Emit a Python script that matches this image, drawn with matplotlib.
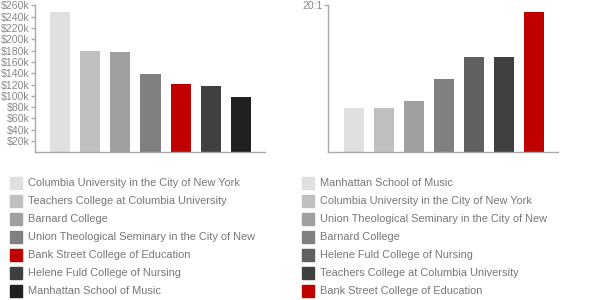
import matplotlib
matplotlib.use("Agg")
import matplotlib.pyplot as plt
from matplotlib.patches import Rectangle

plt.rcParams['font.family'] = ['Liberation Sans', 'DejaVu Sans']

# Left chart: salaries
left_names = ["Columbia University in the City of New York",
              "Teachers College at Columbia University",
              "Barnard College",
              "Union Theological Seminary in the City of New",
              "Bank Street College of Education",
              "Helene Fuld College of Nursing",
              "Manhattan School of Music"]
left_values = [248, 179, 177.5, 139, 120.5, 117, 98]  # in $k
left_colors = ["#e0e0e0", "#c0c0c0", "#a0a0a0", "#808080", "#c00000", "#404040", "#202020"]
left_ticks = [20, 40, 60, 80, 100, 120, 140, 160, 180, 200, 220, 240, 260]

# Right chart: student-faculty ratio
right_names = ["Manhattan School of Music",
               "Columbia University in the City of New York",
               "Union Theological Seminary in the City of New",
               "Barnard College",
               "Helene Fuld College of Nursing",
               "Teachers College at Columbia University",
               "Bank Street College of Education"]
right_values = [6, 6, 7, 10, 13, 13, 19.1]
right_colors = ["#e0e0e0", "#c0c0c0", "#a0a0a0", "#808080", "#606060", "#404040", "#c00000"]
right_ticks = [20]
right_tick_labels = ["20:1"]

W, H = 600, 300
fig = plt.figure(figsize=(6, 3), dpi=100)

axis_col = "#aaaaaa"
text_col = "#888888"
leg_text_col = "#777777"

def make_ax(x0, x1, ytop, ybot):
    return fig.add_axes([x0 / W, (H - ybot) / H, (x1 - x0) / W, (ybot - ytop) / H])

def style(ax):
    for s in ["top", "right"]:
        ax.spines[s].set_visible(False)
    for s in ["left", "bottom"]:
        ax.spines[s].set_color(axis_col)
        ax.spines[s].set_linewidth(1)
    ax.set_xticks([])
    ax.tick_params(axis='y', colors=axis_col, length=3, width=1, pad=0.5,
                   labelsize=7.6, labelcolor=text_col)
    ax.set_xlim(-0.85, 6.8)

ax1 = make_ax(34.5, 265, 5.5, 152.3)
ax1.bar(range(len(left_values)), left_values, width=0.667, color=left_colors)
ax1.set_ylim(0, 260)
ax1.set_yticks(left_ticks)
ax1.set_yticklabels([f"${v}k" for v in left_ticks])
style(ax1)

ax2 = make_ax(328, 558, 5, 152.3)
ax2.bar(range(len(right_values)), right_values, width=0.667, color=right_colors)
ax2.set_ylim(0, 20)
ax2.set_yticks(right_ticks)
ax2.set_yticklabels(right_tick_labels)
style(ax2)

def legend(names, colors, sq_x, txt_x, y0=182.7, dy=18, sz=12):
    for i, (n, c) in enumerate(zip(names, colors)):
        yc = y0 + i * dy
        fig.patches.append(Rectangle((sq_x / W, (H - yc - sz / 2) / H), sz / W, sz / H,
                                     transform=fig.transFigure, color=c, figure=fig))
        fig.text(txt_x / W, (H - yc) / H, n, ha="left", va="center",
                 fontsize=7.9, color=leg_text_col)

legend(left_names, left_colors, 10, 28)
legend(right_names, right_colors, 302, 320)

fig.savefig("out.png", dpi=100)
